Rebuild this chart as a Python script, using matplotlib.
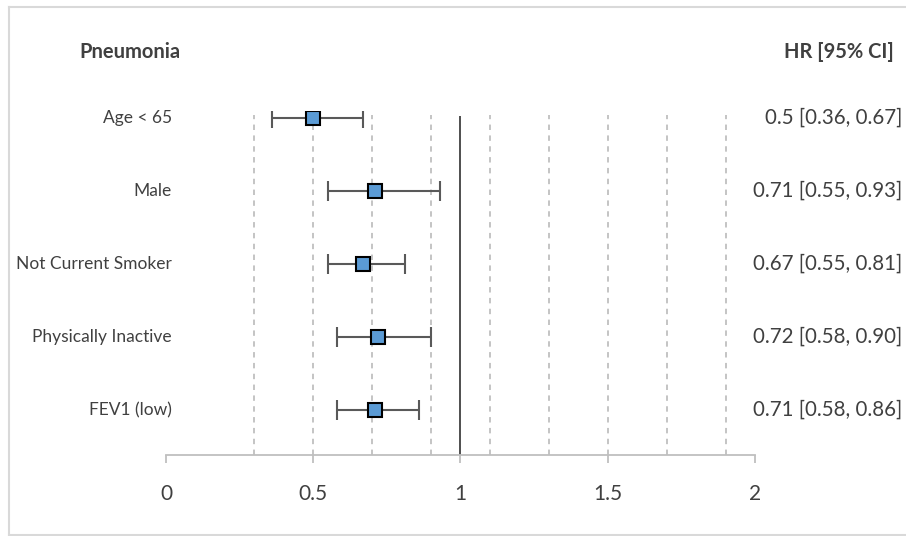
import matplotlib.pyplot as plt
from matplotlib.lines import Line2D

# forest plot data
labels = ["Age < 65", "Male", "Not Current Smoker", "Physically Inactive", "FEV1 (low)"]
hr = [0.5, 0.71, 0.67, 0.72, 0.71]
lower = [0.36, 0.55, 0.55, 0.58, 0.58]
upper = [0.67, 0.93, 0.81, 0.90, 0.86]
ci_text = ["0.5 [0.36, 0.67]", "0.71 [0.55, 0.93]", "0.67 [0.55, 0.81]",
           "0.72 [0.58, 0.90]", "0.71 [0.58, 0.86]"]
grid_x = [0.3, 0.5, 0.7, 0.9, 1.1, 1.3, 1.5, 1.7, 1.9]
xticks = [0, 0.5, 1, 1.5, 2]

txt = "#404040"
plt.rcParams["font.family"] = ["Lato", "DejaVu Sans"]

W, H = 906, 536
fig = plt.figure(figsize=(W / 100, H / 100), dpi=100)

ylo, yhi = 0.384, 5.1
ax_top = 118 - (yhi - 5) * 73
ax = fig.add_axes([166 / W, (H - 455) / H, 589 / W, (455 - ax_top) / H])
ax.set_xlim(0, 2)
ax.set_ylim(ylo, yhi)

ypos = [5, 4, 3, 2, 1]

ax.vlines(grid_x, ylo, 5.04, colors="#BFBFBF", linestyles=(0, (3, 3)), linewidth=1.3, zorder=1)
ax.vlines(1, ylo, 5.03, colors="#404040", linewidth=1.3, zorder=2)

xerr = [[h - l for h, l in zip(hr, lower)], [u - h for h, u in zip(hr, upper)]]
ax.errorbar(hr, ypos, xerr=xerr, fmt="none", ecolor="#595959", elinewidth=1.5,
            capsize=7.5, capthick=1.5, zorder=3)
ax.plot(hr, ypos, "s", markersize=10, markerfacecolor="#5B9BD5",
        markeredgecolor="black", markeredgewidth=1.5, linestyle="none", zorder=4)

for y, lab, ci in zip(ypos, labels, ci_text):
    ax.text(0.02, y, lab, ha="right", va="center", fontsize=12.5, color=txt)
    ax.text(2.5, y, ci, ha="right", va="center", fontsize=14.8, color=txt)

for s in ["top", "right", "left"]:
    ax.spines[s].set_visible(False)
ax.spines["bottom"].set_color("#BFBFBF")
ax.spines["bottom"].set_linewidth(1.3)
ax.set_yticks([])
ax.set_xticks(xticks)
ax.set_xticklabels(["0", "0.5", "1", "1.5", "2"])
ax.tick_params(axis="x", direction="out", length=6, width=1.3, color="#BFBFBF",
               labelsize=15, labelcolor=txt, pad=15)

fig.text(79 / W, 1 - 52 / H, "Pneumonia", ha="left", va="center",
         fontsize=14.5, fontweight="bold", color=txt)
fig.text(894 / W, 1 - 52 / H, "HR [95% CI]", ha="right", va="center",
         fontsize=14.5, fontweight="bold", color=txt)

# chart area border (right edge falls outside the picture)
border = dict(color="#D9D9D9", linewidth=1.5, transform=fig.transFigure)
fig.lines.append(Line2D([8.5 / W, 1], [1 - 6.5 / H, 1 - 6.5 / H], **border))
fig.lines.append(Line2D([8.5 / W, 8.5 / W], [1 - 6.5 / H, 1 / H], **border))
fig.lines.append(Line2D([8.5 / W, 1], [1 / H, 1 / H], **border))

fig.savefig("out.png", dpi=100)
